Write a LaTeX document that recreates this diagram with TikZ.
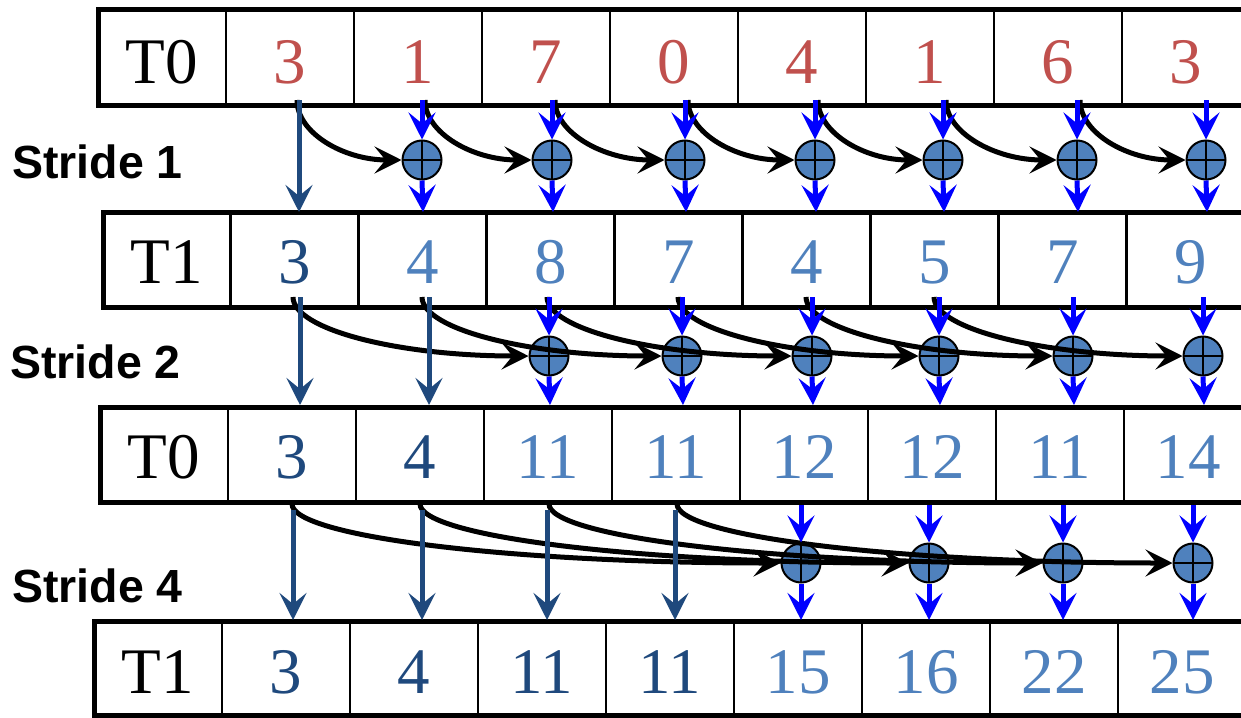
\documentclass[tikz,border=0pt]{standalone}
\usepackage{fontspec}
\setmainfont{Liberation Serif}
\setsansfont{Liberation Sans}
\usetikzlibrary{arrows.meta,calc}
\definecolor{valred}{HTML}{C0504D}
\definecolor{valdark}{HTML}{1F497D}
\definecolor{vallight}{HTML}{4F81BD}
\definecolor{arrblue}{HTML}{0000FF}
\definecolor{arrdark}{HTML}{1F497D}
\newcommand\carryarc[2]{%
  \coordinate (cc) at (#1 |- #2);
  \draw[carry] (#1) .. controls ($(#1)!0.552!(cc)$) and ($(#2)!0.552!(cc)$) .. (#2);}
\begin{document}
\begin{tikzpicture}[x=1pt,y=-1pt,
  frame/.style={line width=5pt},
  divider/.style={line width=2.5pt},
  val/.style={anchor=base,inner sep=0pt,font=\fontsize{65}{78}\selectfont},
  stridelbl/.style={anchor=base west,inner sep=0pt,font=\sffamily\bfseries\fontsize{46.5}{55}\selectfont},
  adder/.style={circle,draw=black,line width=2pt,fill=vallight,minimum size=39pt,inner sep=0pt,
    path picture={\draw[line width=2pt] (path picture bounding box.north) -- (path picture bounding box.south)
      (path picture bounding box.west) -- (path picture bounding box.east);}},
  tipstyle/.style={-{Stealth[length=27pt,width=27pt,inset=11pt]}},
  carry/.style={tipstyle,line width=5pt,draw=black},
  passarr/.style={tipstyle,line width=5pt,draw=arrdark,fill=arrdark},
  addarr/.style={tipstyle,line width=5pt,draw=arrblue,fill=arrblue},
]
\path[use as bounding box,clip] (0,0) rectangle (1241,717);
\fill[white] (0,0) rectangle (1241,717);

% ---------- tables ----------
\draw[frame] (1270,10) -- (98,10) -- (98,105) -- (1270,105);
\foreach \k in {0,...,7} \draw[divider] ({226+128*\k},10) -- ({226+128*\k},105);
\draw[frame] (1270,212) -- (103,212) -- (103,307) -- (1270,307);
\foreach \k in {0,...,7} \draw[divider] ({230.5+128*\k},212) -- ({230.5+128*\k},307);
\draw[frame] (1270,407) -- (100,407) -- (100,502) -- (1270,502);
\foreach \k in {0,...,7} \draw[divider] ({228+128*\k},407) -- ({228+128*\k},502);
\draw[frame] (1270,621) -- (94,621) -- (94,715) -- (1270,715);
\foreach \k in {0,...,7} \draw[divider] ({222+128*\k},621) -- ({222+128*\k},715);

% ---------- texts ----------
\node[val] (lab1) at (162,83) {T0};
\node[val] (lab2) at (167,283) {T1};
\node[val] (lab3) at (164,478) {T0};
\node[val] (lab4) at (158,693) {T1};
\foreach \v [count=\i] in {3,1,7,0,4,1,6,3}
  \node[val,text=valred] (a\i) at ({226+128*(\i-1)+64},83) {\v};
\foreach \v/\c [count=\i] in {3/valdark,4/vallight,8/vallight,7/vallight,4/vallight,5/vallight,7/vallight,9/vallight}
  \node[val,text=\c] (b\i) at ({230.5+128*(\i-1)+64},283) {\v};
\foreach \v/\c [count=\i] in {3/valdark,4/valdark,11/vallight,11/vallight,12/vallight,12/vallight,11/vallight,14/vallight}
  \node[val,text=\c] (c\i) at ({228+128*(\i-1)+64},478) {\v};
\foreach \v/\c [count=\i] in {3/valdark,4/valdark,11/valdark,11/valdark,15/vallight,16/vallight,22/vallight,25/vallight}
  \node[val,text=\c] (d\i) at ({222+128*(\i-1)+64},693) {\v};

\node[stridelbl] (st1) at (12,178) {Stride 1};
\node[stridelbl] (st2) at (10,378) {Stride 2};
\node[stridelbl] (st4) at (12,602) {Stride 4};

% ---------- stride 1 ----------
\foreach \x [count=\i from 2] in {422,552,685,815,943,1077,1206} {
  \node[adder] (p\i) at (\x,160) {};
  \coordinate (pin\i) at (\x,100);
  \coordinate (pout\i) at (\x+1,212);
}
\foreach \x [count=\i] in {297,425,555,688,818,946,1080}
  \coordinate (ps\i) at (\x,100);
\foreach \i [evaluate=\i as \j using int(\i+1)] in {1,...,7} {\carryarc{ps\i}{p\j.west}}
\coordinate (pd1) at (299,100);
\coordinate (pe1) at (299,212);
\draw[passarr] (pd1) -- (pe1);
\foreach \i in {2,...,8} {
  \draw[addarr] (pin\i) -- (p\i.north);
  \draw[addarr] (p\i.south) -- (pout\i);
}

% ---------- stride 2 ----------
\foreach \x [count=\i from 3] in {549,682,812,939,1073,1203} {
  \node[adder] (q\i) at (\x,356) {};
  \coordinate (qin\i) at (\x,297);
  \coordinate (qout\i) at (\x+1,405);
}
\foreach \x [count=\i] in {293,422,547,678,806,934}
  \coordinate (qs\i) at (\x,297);
\foreach \i [evaluate=\i as \j using int(\i+2)] in {1,...,6} {\carryarc{qs\i}{q\j.west}}
\foreach \x [count=\i] in {300,429} {
  \coordinate (qd\i) at (\x,297);
  \coordinate (qe\i) at (\x,405);
  \draw[passarr] (qd\i) -- (qe\i);
}
\foreach \i in {3,...,8} {
  \draw[addarr] (qin\i) -- (q\i.north);
  \draw[addarr] (q\i.south) -- (qout\i);
}

% ---------- stride 4 ----------
\foreach \x [count=\i from 5] in {801,929,1063,1193} {
  \node[adder] (r\i) at (\x,563) {};
  \coordinate (rin\i) at (\x,505);
  \coordinate (rout\i) at (\x,620);
}
\foreach \x [count=\i] in {292,420,549,677}
  \coordinate (rs\i) at (\x,504);
\foreach \i [evaluate=\i as \j using int(\i+4)] in {1,...,4} {\carryarc{rs\i}{r\j.west}}
\foreach \x [count=\i] in {293,422,547,675} {
  \coordinate (rd\i) at (\x,510);
  \coordinate (re\i) at (\x,620);
  \draw[passarr] (rd\i) -- (re\i);
}
\foreach \i in {5,...,8} {
  \draw[addarr] (rin\i) -- (r\i.north);
  \draw[addarr] (r\i.south) -- (rout\i);
}
\end{tikzpicture}
\end{document}
